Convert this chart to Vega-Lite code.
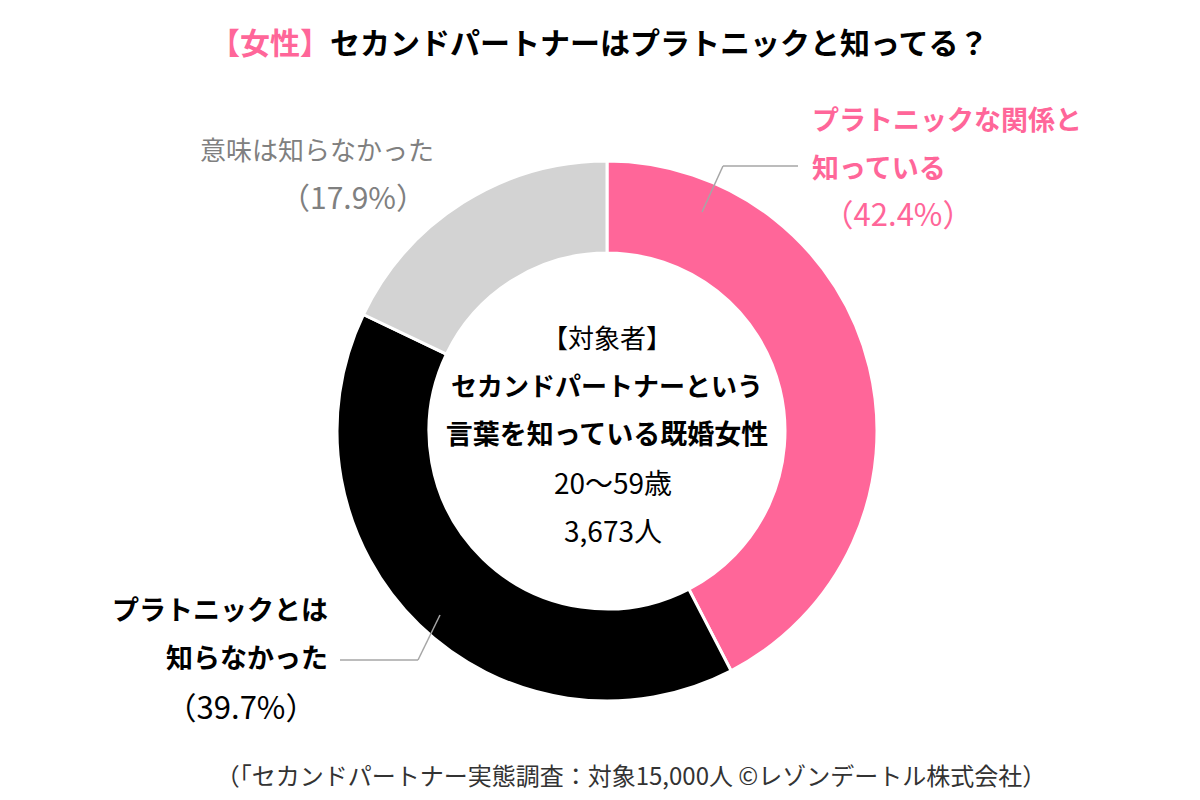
{
  "$schema": "https://vega.github.io/schema/vega-lite/v6.json",
  "width": 1186,
  "height": 738,
  "autosize": {"type": "none"},
  "padding": {"left": 14, "top": 62, "right": 0, "bottom": 0},
  "background": "white",
  "config": {"view": {"stroke": null}, "font": "Noto Sans CJK JP"},
  "datasets": {
    "answers": [
      {"cat": "プラトニックな関係と知っている", "l1": "プラトニックな関係と", "l2": "知っている", "pct": 42.4, "ord": 1},
      {"cat": "プラトニックとは知らなかった", "l1": "プラトニックとは", "l2": "知らなかった", "pct": 39.7, "ord": 2},
      {"cat": "意味は知らなかった", "l1": "意味は知らなかった", "l2": "", "pct": 17.9, "ord": 3}
    ]
  },
  "layer": [
    {
      "data": {"name": "answers"},
      "mark": {"type": "arc", "outerRadius": 270, "innerRadius": 178, "stroke": "white", "strokeWidth": 3},
      "encoding": {
        "theta": {"field": "pct", "type": "quantitative", "stack": true},
        "order": {"field": "ord", "type": "ordinal"},
        "color": {
          "field": "cat", "type": "nominal", "legend": null,
          "scale": {"domain": ["プラトニックな関係と知っている", "プラトニックとは知らなかった", "意味は知らなかった"], "range": ["#FF6699", "#000000", "#D3D3D3"]}
        }
      }
    },
    {
      "data": {"values": [{"a": 1}]},
      "mark": {"type": "rule", "color": "#A6A6A6", "strokeWidth": 1.5},
      "encoding": {"x": {"value": 688}, "y": {"value": 150}, "x2": {"value": 709}, "y2": {"value": 104}}
    },
    {
      "data": {"values": [{"a": 1}]},
      "mark": {"type": "rule", "color": "#A6A6A6", "strokeWidth": 1.5},
      "encoding": {"x": {"value": 709}, "y": {"value": 104}, "x2": {"value": 784}, "y2": {"value": 104}}
    },
    {
      "data": {"values": [{"a": 1}]},
      "mark": {"type": "rule", "color": "#A6A6A6", "strokeWidth": 1.5},
      "encoding": {"x": {"value": 426}, "y": {"value": 553}, "x2": {"value": 404}, "y2": {"value": 598}}
    },
    {
      "data": {"values": [{"a": 1}]},
      "mark": {"type": "rule", "color": "#A6A6A6", "strokeWidth": 1.5},
      "encoding": {"x": {"value": 404}, "y": {"value": 598}, "x2": {"value": 326}, "y2": {"value": 598}}
    },
    {
      "data": {"name": "answers"},
      "transform": [{"filter": "datum.ord == 1"}],
      "mark": {"type": "text", "align": "left", "baseline": "middle", "dx": 205, "dy": -309, "fontSize": 27, "fontWeight": "bold", "color": "#FF6699"},
      "encoding": {"text": {"field": "l1"}}
    },
    {
      "data": {"name": "answers"},
      "transform": [{"filter": "datum.ord == 1"}],
      "mark": {"type": "text", "align": "left", "baseline": "middle", "dx": 205, "dy": -261, "fontSize": 27, "fontWeight": "bold", "color": "#FF6699"},
      "encoding": {"text": {"field": "l2"}}
    },
    {
      "data": {"name": "answers"},
      "transform": [{"filter": "datum.ord == 1"}, {"calculate": "'（' + format(datum.pct, '.1f') + '%）'", "as": "pl"}],
      "mark": {"type": "text", "align": "center", "baseline": "middle", "dx": 291, "dy": -214, "fontSize": 31, "color": "#FF6699"},
      "encoding": {"text": {"field": "pl"}}
    },
    {
      "data": {"name": "answers"},
      "transform": [{"filter": "datum.ord == 2"}],
      "mark": {"type": "text", "align": "right", "baseline": "middle", "dx": -279, "dy": 181, "fontSize": 27, "fontWeight": "bold", "color": "#000000"},
      "encoding": {"text": {"field": "l1"}}
    },
    {
      "data": {"name": "answers"},
      "transform": [{"filter": "datum.ord == 2"}],
      "mark": {"type": "text", "align": "right", "baseline": "middle", "dx": -279, "dy": 229, "fontSize": 27, "fontWeight": "bold", "color": "#000000"},
      "encoding": {"text": {"field": "l2"}}
    },
    {
      "data": {"name": "answers"},
      "transform": [{"filter": "datum.ord == 2"}, {"calculate": "'（' + format(datum.pct, '.1f') + '%）'", "as": "pl"}],
      "mark": {"type": "text", "align": "center", "baseline": "middle", "dx": -366, "dy": 279, "fontSize": 31, "color": "#000000"},
      "encoding": {"text": {"field": "pl"}}
    },
    {
      "data": {"name": "answers"},
      "transform": [{"filter": "datum.ord == 3"}],
      "mark": {"type": "text", "align": "center", "baseline": "middle", "dx": -290, "dy": -279, "fontSize": 26, "color": "#808080"},
      "encoding": {"text": {"field": "l1"}}
    },
    {
      "data": {"name": "answers"},
      "transform": [{"filter": "datum.ord == 3"}, {"calculate": "'（' + format(datum.pct, '.1f') + '%）'", "as": "pl"}],
      "mark": {"type": "text", "align": "center", "baseline": "middle", "dx": -254, "dy": -231, "fontSize": 30, "color": "#808080"},
      "encoding": {"text": {"field": "pl"}}
    },
    {
      "data": {"values": [{"t": "【対象者】"}]},
      "mark": {"type": "text", "align": "center", "baseline": "middle", "dy": -91, "fontSize": 26, "color": "#000000"},
      "encoding": {"text": {"field": "t"}}
    },
    {
      "data": {"values": [{"t": "セカンドパートナーという"}]},
      "mark": {"type": "text", "align": "center", "baseline": "middle", "dy": -43, "fontSize": 26, "fontWeight": "bold", "color": "#000000"},
      "encoding": {"text": {"field": "t"}}
    },
    {
      "data": {"values": [{"t": "言葉を知っている既婚女性"}]},
      "mark": {"type": "text", "align": "center", "baseline": "middle", "dy": 5, "fontSize": 27, "fontWeight": "bold", "color": "#000000"},
      "encoding": {"text": {"field": "t"}}
    },
    {
      "data": {"values": [{"t": "20～59歳"}]},
      "mark": {"type": "text", "align": "center", "baseline": "middle", "dx": 6, "dy": 55, "fontSize": 28, "color": "#000000"},
      "encoding": {"text": {"field": "t"}}
    },
    {
      "data": {"values": [{"t": "3,673人"}]},
      "mark": {"type": "text", "align": "center", "baseline": "middle", "dx": 6, "dy": 103, "fontSize": 28, "color": "#000000"},
      "encoding": {"text": {"field": "t"}}
    },
    {
      "data": {"values": [{"t": "【女性】"}]},
      "mark": {"type": "text", "align": "right", "baseline": "middle", "dx": -277, "dy": -386, "fontSize": 30, "fontWeight": "bold", "color": "#FF6699"},
      "encoding": {"text": {"field": "t"}}
    },
    {
      "data": {"values": [{"t": "セカンドパートナーはプラトニックと知ってる？"}]},
      "mark": {"type": "text", "align": "left", "baseline": "middle", "dx": -277, "dy": -386, "fontSize": 30, "fontWeight": "bold", "color": "#000000"},
      "encoding": {"text": {"field": "t"}}
    },
    {
      "data": {"values": [{"t": "（「セカンドパートナー実態調査：対象15,000人 ©レゾンデートル株式会社）"}]},
      "mark": {"type": "text", "align": "center", "baseline": "middle", "dx": 24, "dy": 347, "fontSize": 24, "color": "#333333"},
      "encoding": {"text": {"field": "t"}}
    }
  ]
}
